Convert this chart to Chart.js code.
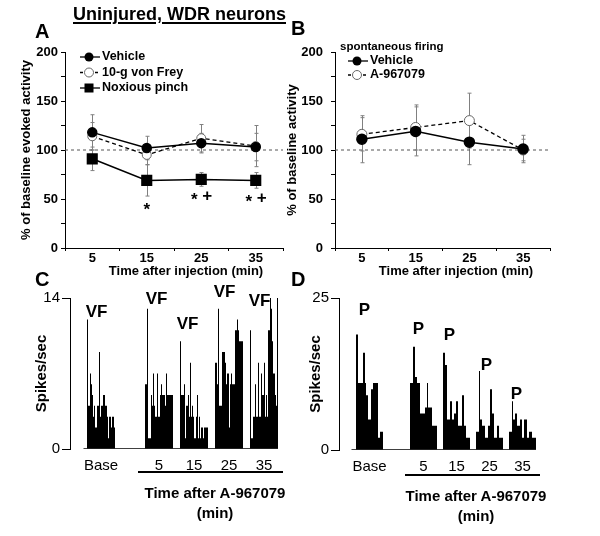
<!DOCTYPE html>
<html>
<head>
<meta charset="utf-8">
<title>Uninjured, WDR neurons</title>
<script src="https://cdn.jsdelivr.net/npm/chart.js@4.4.0/dist/chart.umd.min.js"></script>
<style>
    body { margin: 0; background: #fff; }
    #fig { position: relative; width: 600px; height: 536px; overflow: hidden;
           font-family: "Liberation Sans", Arial, Helvetica, sans-serif; color: #000; }
    #fig canvas { position: absolute; left: 0; top: 0; }
    .txt { position: absolute; font-weight: bold; white-space: nowrap; line-height: 1; }
    .mid { transform: translateX(-50%); }
    .rule { position: absolute; height: 2px; background: #000; }
</style>
</head>
<body>
<div id="fig">
    <canvas id="chartA" width="600" height="536"></canvas>
    <canvas id="chartB" width="600" height="536"></canvas>
    <canvas id="chartC" width="600" height="536"></canvas>
    <canvas id="chartD" width="600" height="536"></canvas>

    <div class="txt" style="left:73px;top:5px;font-size:18px;text-decoration:underline;text-decoration-thickness:2px;text-underline-offset:2px;">Uninjured, WDR neurons</div>
    <div class="txt" style="left:35px;top:21px;font-size:20px;">A</div>
    <div class="txt" style="left:291px;top:18px;font-size:20px;">B</div>
    <div class="txt" style="left:35px;top:269px;font-size:20px;">C</div>
    <div class="txt" style="left:291px;top:269px;font-size:20px;">D</div>

    <div class="txt mid" style="left:186px;top:264px;font-size:13px;">Time after injection (min)</div>
    <div class="txt mid" style="left:456px;top:264px;font-size:13px;">Time after injection (min)</div>

    <div class="rule" style="left:138px;top:471px;width:145px;"></div>
    <div class="txt mid" style="left:215px;top:485px;font-size:15px;">Time after A-967079</div>
    <div class="txt mid" style="left:215px;top:505px;font-size:15px;">(min)</div>

    <div class="rule" style="left:405px;top:474px;width:135px;"></div>
    <div class="txt mid" style="left:476px;top:488px;font-size:15px;">Time after A-967079</div>
    <div class="txt mid" style="left:476px;top:508px;font-size:15px;">(min)</div>
</div>

<script>
(function () {
    'use strict';

    // --- Data: panels A and B (% of baseline, mean and error) ---
    const times = [5, 15, 25, 35];
    const baselinePct = 100;

    const vehicleA = [118, 102, 107, 103];
    const vehicleAErr = [18, 12, 10, 14];
    const vonFreyA = [114, 95, 112, 104];
    const vonFreyAErr = [14, 10, 14, 21];
    const pinchA = [91, 69, 70, 69];
    const pinchAErr = [12, 16, 7, 8];
    const pinchSigTimes = [15, 25, 35];
    const pinchSigText = ['*', '* +', '* +'];

    const vehicleB = [111, 119, 108, 101];
    const vehicleBErr = [24, 25, 23, 14];
    const drugB = [116, 123, 130, 100];
    const drugBErr = [17, 23, 28, 11];

    // --- Data: panels C and D (spikes/sec per 1-s bin) ---
    const groupLabels = ['Base', '5', '15', '25', '35'];

    const vfBase = [12, 4, 4, 7, 6, 5, 3, 4, 2, 2, 4, 4, 9, 3, 4, 4, 5, 5, 4, 4, 3, 1, 3, 3, 2, 3, 3, 2];
    const vf5 = [6, 6, 13, 1, 1, 1, 5, 4, 7, 4, 3, 3, 7, 3, 3, 5, 6, 5, 5, 5, 4, 7, 5, 5, 5, 5, 5, 5];
    const vf15 = [10, 5, 5, 5, 6, 1, 4, 4, 5, 3, 8, 3, 4, 3, 1, 1, 3, 5, 1, 3, 1, 2, 2, 1, 2, 2, 2, 2];
    const vf25 = [8, 8, 6, 13, 4, 4, 4, 9, 9, 9, 8, 6, 7, 7, 2, 6, 7, 6, 6, 6, 11, 11, 12, 11, 10, 10, 10, 10];
    const vf35 = [11, 1, 1, 3, 3, 6, 3, 3, 8, 3, 3, 7, 5, 5, 8, 3, 5, 3, 11, 11, 14, 13, 10, 7, 7, 5, 4, 14];

    const pBase = [19, 19, 11, 11, 11, 11, 11, 16, 16, 11, 9, 9, 5, 5, 5, 10, 10, 11, 11, 11, 11, 11, 2, 2, 3, 3, 3];
    const p5 = [11, 11, 11, 17, 17, 12, 12, 11, 11, 11, 6, 6, 6, 6, 6, 7, 7, 11, 7, 7, 7, 7, 4, 4, 4, 4, 4];
    const p15 = [16, 16, 14, 14, 5, 5, 5, 8, 8, 5, 5, 6, 6, 8, 8, 4, 4, 4, 4, 9, 9, 4, 4, 2, 2, 2, 2];
    const p25 = [3, 3, 3, 13, 5, 5, 4, 4, 4, 2, 2, 2, 4, 4, 10, 10, 6, 6, 2, 2, 2, 4, 4, 2, 2, 2, 2];
    const p35 = [3, 3, 3, 8, 5, 5, 6, 6, 4, 4, 4, 5, 5, 2, 2, 5, 5, 5, 2, 2, 3, 3, 3, 2, 2, 2, 2];

    Chart.defaults.font.family = '"Liberation Sans", Arial, Helvetica, sans-serif';
    Chart.defaults.color = '#000';
    Chart.defaults.animation = false;

    const pts = ys => times.map((t, i) => ({ x: t, y: ys[i] }));

    // --- Error bars, drawn under the lines ---
    const errorBars = {
        id: 'errorBars',
        beforeDatasetsDraw(chart) {
            const { ctx } = chart;
            const xs = chart.scales.x, ys = chart.scales.y;
            ctx.save();
            ctx.strokeStyle = '#808080';
            ctx.lineWidth = 1;
            chart.data.datasets.forEach(ds => {
                if (!ds.errors) return;
                ds.data.forEach((p, i) => {
                    const px = Math.round(xs.getPixelForValue(p.x)) + 0.5;
                    const top = ys.getPixelForValue(p.y + ds.errors[i]);
                    const bot = ys.getPixelForValue(p.y - ds.errors[i]);
                    ctx.beginPath();
                    ctx.moveTo(px, top); ctx.lineTo(px, bot);
                    ctx.moveTo(px - 2, top); ctx.lineTo(px + 2, top);
                    ctx.moveTo(px - 2, bot); ctx.lineTo(px + 2, bot);
                    ctx.stroke();
                });
            });
            ctx.restore();
        }
    };

    function drawMarker(ctx, style, x, y) {
        ctx.save();
        ctx.setLineDash([]);
        ctx.beginPath();
        if (style === 'square') {
            ctx.fillStyle = '#000';
            ctx.fillRect(x - 4.5, y - 4.5, 9, 9);
        } else if (style === 'open') {
            ctx.arc(x, y, 4.5, 0, Math.PI * 2);
            ctx.fillStyle = '#fff';
            ctx.fill();
            ctx.strokeStyle = '#666';
            ctx.lineWidth = 1;
            ctx.stroke();
        } else {
            ctx.arc(x, y, 4.5, 0, Math.PI * 2);
            ctx.fillStyle = '#000';
            ctx.fill();
        }
        ctx.restore();
    }

    // legend with a line sample through each marker
    function legendPlugin(items, dx, dy, step, header) {
        return {
            id: 'panelLegend',
            afterDraw(chart) {
                const { ctx, chartArea: a } = chart;
                const x0 = a.left + dx;
                ctx.save();
                ctx.textBaseline = 'middle';
                ctx.fillStyle = '#000';
                if (header) {
                    ctx.font = 'bold 11.5px ' + Chart.defaults.font.family;
                    ctx.fillText(header, a.left + 5, a.top - 5);
                }
                items.forEach((it, i) => {
                    const y = a.top + dy + i * step;
                    ctx.strokeStyle = '#000';
                    ctx.lineWidth = 1.3;
                    ctx.setLineDash(it.dash || []);
                    ctx.beginPath();
                    ctx.moveTo(x0, y); ctx.lineTo(x0 + 20, y);
                    ctx.stroke();
                    drawMarker(ctx, it.marker, x0 + 9, y);
                    ctx.font = 'bold 12.5px ' + Chart.defaults.font.family;
                    ctx.fillText(it.label, x0 + 22, y);
                });
                ctx.restore();
            }
        };
    }

    // significance marks under the pinch points
    const sigMarks = {
        id: 'sigMarks',
        afterDatasetsDraw(chart) {
            const { ctx } = chart;
            const xs = chart.scales.x, ys = chart.scales.y;
            ctx.save();
            ctx.fillStyle = '#000';
            ctx.font = 'bold 17px ' + Chart.defaults.font.family;
            ctx.textAlign = 'center';
            ctx.textBaseline = 'alphabetic';
            pinchSigTimes.forEach((t, k) => {
                const i = times.indexOf(t);
                const cx = xs.getPixelForValue(t);
                const cy = ys.getPixelForValue(pinchA[i] - pinchAErr[i]) + 8.5;
                const parts = pinchSigText[k].split(' ');
                if (parts.length === 1) {
                    ctx.fillText('*', cx, cy + 10);
                } else {
                    ctx.fillText('*', cx - 7, cy + 10);
                    ctx.fillText('+', cx + 6, cy + 6);
                }
            });
            ctx.restore();
        }
    };

    function lineScales(yWidth, yTitle, yPad) {
        return {
            x: {
                type: 'linear', min: 0, max: 40,
                afterFit: s => { s.height = 20; },
                ticks: {
                    stepSize: 5, autoSkip: false, maxRotation: 0, padding: 0,
                    font: { weight: 'bold', size: 13 },
                    callback: v => (v % 10 === 5 ? String(v) : '')
                },
                grid: {
                    drawOnChartArea: false, tickLength: 3,
                    color: c => (c.tick && c.tick.value % 10 === 0 ? '#000' : 'rgba(0,0,0,0)')
                },
                border: { color: '#000', width: 1 }
            },
            y: {
                min: 0, max: 200,
                afterFit: s => { s.width = yWidth; },
                ticks: {
                    stepSize: 25, autoSkip: false, padding: yPad,
                    font: { weight: 'bold', size: 13 },
                    callback: v => (v % 50 === 0 ? String(v) : '')
                },
                grid: { drawOnChartArea: false, tickLength: 4, color: '#000' },
                border: { color: '#000', width: 1 },
                title: {
                    display: true, text: yTitle,
                    font: { weight: 'bold', size: 13 },
                    padding: { top: 4, bottom: 0 }
                }
            }
        };
    }

    const baseOpts = {
        responsive: false,
        animation: false,
        events: [],
        plugins: { legend: { display: false }, tooltip: { enabled: false } }
    };

    // --- Panel A ---
    new Chart(document.getElementById('chartA'), {
        type: 'line',
        data: {
            datasets: [
                {
                    label: 'Vehicle', data: pts(vehicleA), errors: vehicleAErr,
                    borderColor: '#000', borderWidth: 1.5,
                    pointStyle: 'circle', pointRadius: 4.5,
                    pointBackgroundColor: '#000', pointBorderColor: '#000'
                },
                {
                    label: '10-g von Frey', data: pts(vonFreyA), errors: vonFreyAErr,
                    borderColor: '#000', borderWidth: 1.3, borderDash: [4, 3],
                    pointStyle: 'circle', pointRadius: 4.5, pointBorderWidth: 1,
                    pointBackgroundColor: '#fff', pointBorderColor: '#666'
                },
                {
                    label: 'Noxious pinch', data: pts(pinchA), errors: pinchAErr,
                    borderColor: '#000', borderWidth: 1.5,
                    pointStyle: 'rect', pointRadius: 6.8,
                    pointBackgroundColor: '#000', pointBorderColor: '#000'
                },
                {
                    label: 'baseline', data: [{ x: 0, y: baselinePct }, { x: 40, y: baselinePct }],
                    borderColor: '#555', borderWidth: 1, borderDash: [3, 3], pointRadius: 0
                }
            ]
        },
        options: Object.assign({}, baseOpts, {
            layout: { padding: { left: 15, right: 317, top: 52, bottom: 268 } },
            scales: lineScales(50, '% of baseline evoked activity', 3)
        }),
        plugins: [
            errorBars, sigMarks,
            legendPlugin([
                { label: 'Vehicle', marker: 'filled' },
                { label: '10-g von Frey', marker: 'open', dash: [3, 2] },
                { label: 'Noxious pinch', marker: 'square' }
            ], 15, 5, 15.5)
        ]
    });

    // --- Panel B ---
    new Chart(document.getElementById('chartB'), {
        type: 'line',
        data: {
            datasets: [
                {
                    label: 'Vehicle', data: pts(vehicleB), errors: vehicleBErr,
                    borderColor: '#000', borderWidth: 1.5,
                    pointStyle: 'circle', pointRadius: 5,
                    pointBackgroundColor: '#000', pointBorderColor: '#000'
                },
                {
                    label: 'A-967079', data: pts(drugB), errors: drugBErr,
                    borderColor: '#000', borderWidth: 1.3, borderDash: [4, 3],
                    pointStyle: 'circle', pointRadius: 5, pointBorderWidth: 1,
                    pointBackgroundColor: '#fff', pointBorderColor: '#666'
                },
                {
                    label: 'baseline', data: [{ x: 0, y: baselinePct }, { x: 40, y: baselinePct }],
                    borderColor: '#555', borderWidth: 1, borderDash: [3, 3], pointRadius: 0
                }
            ]
        },
        options: Object.assign({}, baseOpts, {
            layout: { padding: { left: 281, right: 50, top: 52, bottom: 268 } },
            scales: lineScales(54, '% of baseline activity', 8)
        }),
        plugins: [
            errorBars,
            legendPlugin([
                { label: 'Vehicle', marker: 'filled' },
                { label: 'A-967079', marker: 'open', dash: [3, 2] }
            ], 13, 9, 14, 'spontaneous firing')
        ]
    });

    // --- Panels C and D: peri-stimulus histograms ---
    function psth(groups, firstGap, gap) {
        const bars = [], starts = [], centers = [];
        let start = 0;
        groups.forEach((g, gi) => {
            starts.push(start);
            centers.push(start + (g.length - 1) / 2);
            g.forEach((v, i) => bars.push({ x: start + i, y: v }));
            start += g.length + (gi === 0 ? firstGap : gap);
        });
        const last = starts[starts.length - 1] + groups[groups.length - 1].length - 1;
        return { bars, starts, centers, last };
    }

    function histChart(id, cfg) {
        const h = psth(cfg.groups, cfg.firstGap, cfg.gap);
        const stimLabels = {
            id: 'stimLabels',
            afterDatasetsDraw(chart) {
                const { ctx } = chart;
                const xs = chart.scales.x, ys = chart.scales.y;
                ctx.save();
                ctx.fillStyle = '#000';
                ctx.font = 'bold 17px ' + Chart.defaults.font.family;
                ctx.textAlign = 'center';
                ctx.textBaseline = 'middle';
                h.starts.forEach((s, i) => {
                    ctx.fillText(cfg.stim, xs.getPixelForValue(s + cfg.markX[i]), ys.getPixelForValue(cfg.markY[i]));
                });
                ctx.restore();
            }
        };
        return new Chart(document.getElementById(id), {
            type: 'bar',
            data: {
                datasets: [
                    {
                        type: 'bar', data: h.bars, backgroundColor: '#000',
                        barThickness: 1, inflateAmount: 0, borderWidth: 0
                    },
                    {
                        type: 'line', data: [{ x: cfg.lineFrom, y: 0 }, { x: h.last + 0.5, y: 0 }],
                        borderColor: '#000', borderWidth: 1.5, pointRadius: 0
                    }
                ]
            },
            options: Object.assign({}, baseOpts, {
                layout: { padding: cfg.pad },
                scales: {
                    x: {
                        type: 'linear', min: cfg.xMin, max: cfg.xMax, offset: false,
                        afterFit: s => { s.height = 25; },
                        afterBuildTicks: s => { s.ticks = h.centers.map(v => ({ value: v })); },
                        ticks: {
                            autoSkip: false, maxRotation: 0, padding: 8,
                            font: { size: 15 },
                            callback: (v, i) => groupLabels[i]
                        },
                        grid: { display: false, drawTicks: false, tickLength: 0 },
                        border: { display: false }
                    },
                    y: {
                        min: 0, max: cfg.yMax,
                        afterFit: s => { s.width = cfg.yWidth; },
                        afterBuildTicks: s => { s.ticks = [{ value: 0 }, { value: cfg.yMax }]; },
                        ticks: { autoSkip: false, padding: 2, font: { size: 15 } },
                        grid: { drawOnChartArea: false, tickLength: 8, color: '#000' },
                        border: { color: '#000', width: 1 },
                        title: {
                            display: true, text: 'Spikes/sec',
                            font: { weight: 'bold', size: 15 },
                            padding: { top: 4, bottom: 0 }
                        }
                    }
                }
            }),
            plugins: [stimLabels]
        });
    }

    histChart('chartC', {
        groups: [vfBase, vf5, vf15, vf25, vf35], firstGap: 30, gap: 7,
        yMax: 14, xMin: -17.5, xMax: 191.5, lineFrom: -4,
        pad: { left: 29, right: 321, top: 298, bottom: 62 }, yWidth: 41,
        stim: 'VF', markX: [9, 11, 7, 9, 9], markY: [12.7, 13.9, 11.6, 14.5, 13.7]
    });

    histChart('chartD', {
        groups: [pBase, p5, p15, p25, p35], firstGap: 27, gap: 6,
        yMax: 25, xMin: -17.5, xMax: 179.5, lineFrom: -5,
        pad: { left: 303, right: 64, top: 298, bottom: 61 }, yWidth: 36,
        stim: 'P', markX: [8, 8, 6, 10, 7], markY: [22.9, 19.9, 18.9, 14, 9.2]
    });
})();
</script>
</body>
</html>
